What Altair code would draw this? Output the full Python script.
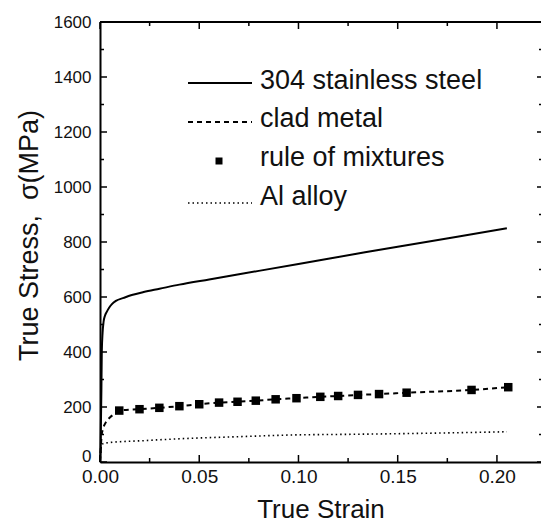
import altair as alt
import pandas as pd

# ---------------- data ----------------
series_names = ["304 stainless steel", "clad metal", "rule of mixtures", "Al alloy"]

steel_strain = [0.0, 0.0003, 0.0007, 0.0009, 0.0013, 0.0018, 0.0025, 0.0034, 0.0045, 0.006,
                0.008, 0.012, 0.016, 0.022, 0.03, 0.04, 0.055, 0.08, 0.10, 0.13, 0.15, 0.18, 0.205]
steel_stress = [0, 60, 260, 400, 470, 510, 532, 546, 560, 574,
                586, 597, 607, 618, 630, 645, 664, 695, 720, 758, 783, 819, 850]

clad_strain = [0.0, 0.0004, 0.0008, 0.0015, 0.003, 0.005, 0.0075, 0.0097, 0.0199, 0.0299, 0.040,
               0.050, 0.060, 0.0693, 0.0785, 0.0885, 0.099, 0.111, 0.120, 0.130, 0.1406,
               0.1545, 0.1872, 0.2057]
clad_stress = [0, 50, 95, 120, 145, 162, 176, 187, 192, 197, 203,
               210, 216, 219, 223, 228, 232, 237, 240, 244, 247,
               252, 262, 272]

rom_strain = [0.0097, 0.0199, 0.0299, 0.040, 0.050, 0.060, 0.0693, 0.0785, 0.0885, 0.099,
              0.111, 0.120, 0.130, 0.1406, 0.1545, 0.1872, 0.2057]
rom_stress = [187, 192, 197, 203, 210, 216, 219, 223, 228, 232,
              237, 240, 244, 247, 252, 262, 272]

al_strain = [0.0, 0.0003, 0.0008, 0.002, 0.005, 0.02, 0.045, 0.07, 0.095, 0.13, 0.16, 0.205]
al_stress = [0, 30, 62, 68, 71, 77, 86, 92, 98, 101, 104, 110]

x_major = [0.0, 0.05, 0.10, 0.15, 0.20]
x_minor = [0.025, 0.075, 0.125, 0.175]
y_major = [0, 200, 400, 600, 800, 1000, 1200, 1400, 1600]
y_minor = [100, 300, 500, 700, 900, 1100, 1300, 1500]

x_title = "True Strain"
y_title = "True Stress,\u00a0 \u03c3(MPa)"

# ---------------- layout ----------------
W, H = 441, 440
FONT = "Liberation Sans"
INK = "#111111"

xs = alt.Scale(domain=[0, 0.2222], nice=False, zero=False)
ys = alt.Scale(domain=[0, 1600], nice=False, zero=False)

x_axis = alt.Axis(values=x_major, format=".2f", title=x_title,
                  labelFontSize=19, labelPadding=5,
                  titleFontSize=26, titleBaseline="alphabetic", titleY=55)
y_axis = alt.Axis(values=y_major, format="d", title=y_title,
                  labelFontSize=17, labelPadding=9,
                  labelOffset=alt.condition("datum.value == 0", alt.value(-6), alt.value(0)),
                  titleFontSize=27, titleBaseline="alphabetic",
                  titleX=-63, titleY=213)

X = alt.X("strain:Q", scale=xs, axis=x_axis)
Y = alt.Y("stress:Q", scale=ys, axis=y_axis)


def df(xv, yv):
    return pd.DataFrame({"strain": xv, "stress": yv})


steel = alt.Chart(df(steel_strain, steel_stress)).mark_line(
    color="black", strokeWidth=2, interpolate="monotone").encode(x=X, y=Y)

clad = alt.Chart(df(clad_strain, clad_stress)).mark_line(
    color="black", strokeWidth=2, strokeDash=[5, 4], interpolate="monotone").encode(x=X, y=Y)

rom = alt.Chart(df(rom_strain, rom_stress)).mark_square(
    color="black", size=72, opacity=1).encode(x=X, y=Y)

al = alt.Chart(df(al_strain, al_stress)).mark_line(
    color="black", strokeWidth=1.6, strokeDash=[1.5, 3], interpolate="monotone").encode(x=X, y=Y)


def xticks(vals, y0, y1):
    return alt.Chart(pd.DataFrame({"strain": vals})).mark_rule(color="black", strokeWidth=1.5).encode(
        x=X, y=alt.value(y0), y2=alt.value(y1))


def yticks(vals, x0, x1):
    return alt.Chart(pd.DataFrame({"stress": vals})).mark_rule(color="black", strokeWidth=1.5).encode(
        y=Y, x=alt.value(x0), x2=alt.value(x1))


ticks = [
    xticks(x_major, H, H - 7), xticks(x_minor, H, H - 4),
    xticks(x_major, 0, 7), xticks(x_minor, 0, 4),
    yticks(y_major, 0, 7), yticks(y_minor, 0, 4),
    yticks(y_major, W, W - 4), yticks(y_minor, W, W - 2),
]

top_border = alt.Chart(pd.DataFrame({"a": [0]})).mark_rule(color="black", strokeWidth=2).encode(
    x=alt.value(0), x2=alt.value(W), y=alt.value(0))


def legend_text(name, y):
    return alt.Chart(pd.DataFrame({"name": [name]})).mark_text(
        font=FONT, fontSize=27, align="left", baseline="alphabetic", color=INK).encode(
        x=alt.value(160), y=alt.value(y), text="name:N")


def legend_line(y, dash, width):
    kw = dict(color="black", strokeWidth=width)
    if dash:
        kw["strokeDash"] = dash
    return alt.Chart(pd.DataFrame({"a": [0]})).mark_rule(**kw).encode(
        x=alt.value(88), x2=alt.value(152), y=alt.value(y))


legend = [
    legend_line(61, None, 2), legend_text(series_names[0], 67),
    legend_line(100, [5, 4], 2), legend_text(series_names[1], 105),
    alt.Chart(pd.DataFrame({"a": [0]})).mark_square(color="black", size=49, opacity=1).encode(
        x=alt.value(119), y=alt.value(139)),
    legend_text(series_names[2], 144),
    legend_line(181, [1.5, 3], 1.6), legend_text(series_names[3], 183),
]

chart = alt.layer(steel, clad, rom, al, *ticks, top_border, *legend).properties(
    width=W, height=H,
    autosize=alt.AutoSizeParams(type="none"),
    padding={"left": 100, "top": 22, "right": 0, "bottom": 525 - 22 - H},
    background="white",
).configure_view(stroke=None).configure_axis(
    labelFont=FONT, titleFont=FONT, labelColor=INK, titleColor=INK,
    titleFontWeight="normal", domainColor="black", domainWidth=2,
    ticks=False, grid=False, labelFlush=False, labelOverlap=False,
)

chart.save("out.html", embed_options={"renderer": "svg", "actions": False})
